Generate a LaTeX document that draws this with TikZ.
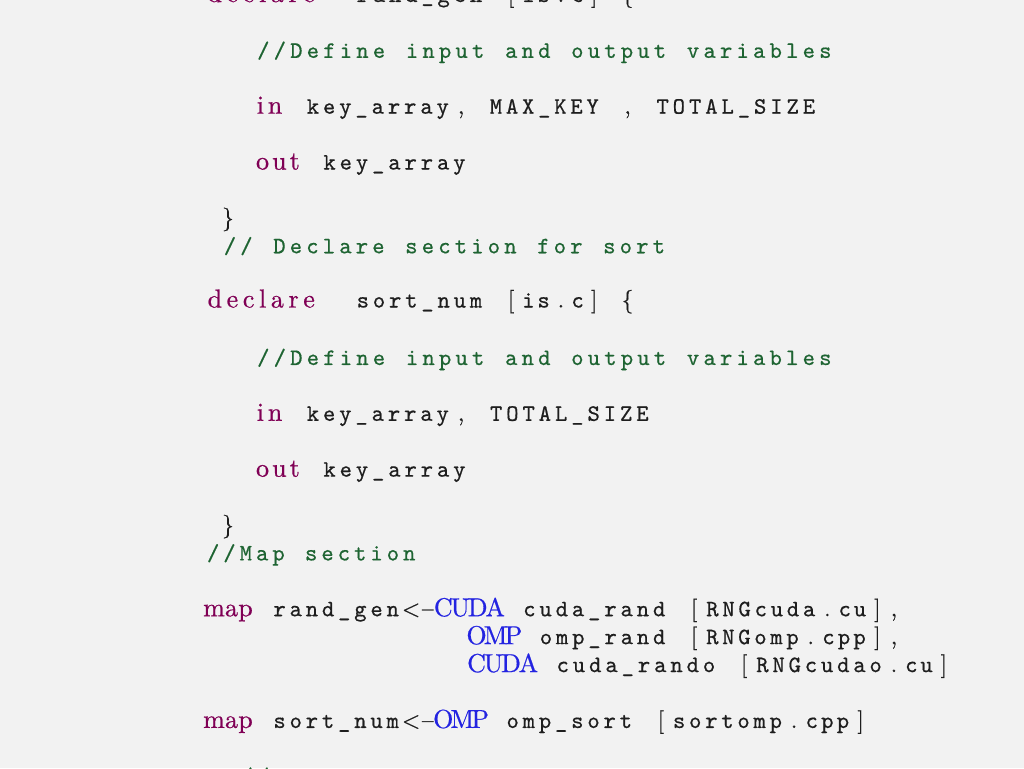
\documentclass[tikz,border=0pt]{standalone}
\usepackage{fontspec}
\setmainfont{lmroman10-regular.otf}[FakeBold=0.6]
\setmonofont{lmmono10-regular.otf}[FakeBold=0.6]
\usepackage{xcolor}
\definecolor{bgc}{RGB}{242,242,242}
\definecolor{kwc}{RGB}{128,0,85}
\definecolor{idc}{RGB}{30,30,30}
\definecolor{cmc}{RGB}{30,100,50}
\definecolor{tyc}{RGB}{35,35,225}
\newdimen\cellw \cellw=16.65pt
\newcount\tokn
\def\tokEnd{TOKEND}
\def\tokcount#1{\ifx#1\tokEnd\else\advance\tokn by 1\relax\expandafter\tokcount\fi}
\def\tokfill#1{\ifx#1\tokEnd\else{#1}\hss\expandafter\tokfill\fi}
\newcommand\Tk[1]{\tokn=0\relax\tokcount#1\tokEnd\hbox to \tokn\cellw{\hss\tokfill#1\tokEnd}}
\newcommand\Kw[1]{{\color{kwc}\rmfamily\fontsize{26}{28}\selectfont\Tk{#1}}}
\newcommand\Id[1]{{\color{idc}\ttfamily\Tk{#1}}}
\newcommand\Pu[1]{{\color{idc}\rmfamily\Tk{#1}}}
\newcommand\Cmt[1]{{\color{cmc}\ttfamily\Tk{#1}}}
\newcommand\Ty[1]{{\color{tyc}\rmfamily\fontsize{26}{28}\selectfont\Tk{#1}}}
\newcommand\Gap[1]{\kern#1\cellw}
\tikzset{code/.style={anchor=base west, inner sep=0pt, outer sep=0pt, font=\fontsize{23.5}{28}\selectfont}}
\begin{document}
\begin{tikzpicture}[x=1pt,y=-1pt]
\useasboundingbox (0,0) rectangle (1024,768);
\fill[bgc] (0,0) rectangle (1024,768);
\clip (0,0) rectangle (1024,768);
% column c left edge = 203 + 16.65 c ; baseline n = 2 + 27.92 n
\node[code] (l0) at (203,2) {\Kw{declare}\Gap2\Id{rand\_gen}\Gap1\Pu{[}\Id{is}\Pu{.}\Id{c}\Pu{]}\Gap1\Pu{\{}};
\node[code] (l2) at (252.95,57.84) {\Cmt{//Define~input~and~output~variables}};
\node[code] (l4) at (252.95,113.68) {\Kw{in}\Gap1\Id{key\_array}\Pu{,}\Gap1\Id{MAX\_KEY}\Gap1\Pu{,}\Gap1\Id{TOTAL\_SIZE}};
\node[code] (l6) at (252.95,169.52) {\Kw{out}\Gap1\Id{key\_array}};
\node[code] (l8) at (219.65,225.36) {\Pu{\}}};
\node[code] (l9) at (219.65,253.28) {\Cmt{//~Declare~section~for~sort}};
\node[code] (l11) at (203,307.5) {\Kw{declare}\Gap2\Id{sort\_num}\Gap1\Pu{[}\Id{is}\Pu{.}\Id{c}\Pu{]}\Gap1\Pu{\{}};
\node[code] (l13) at (252.95,364.96) {\Cmt{//Define~input~and~output~variables}};
\node[code] (l15) at (252.95,420.8) {\Kw{in}\Gap1\Id{key\_array}\Pu{,}\Gap1\Id{TOTAL\_SIZE}};
\node[code] (l17) at (252.95,476.64) {\Kw{out}\Gap1\Id{key\_array}};
\node[code] (l19) at (219.65,532.48) {\Pu{\}}};
\node[code] (l20) at (203,560.4) {\Cmt{//Map~section}};
\node[code] (l22) at (203,616.24) {\Kw{map}\Gap1\Id{rand\_gen}\Pu{<}\Pu{\textendash}\Ty{CUDA}\Gap1\Id{cuda\_rand}\Gap1\Pu{[}\Id{RNGcuda}\Pu{.}\Id{cu}\Pu{]}\Pu{,}};
\node[code] (l23) at (469.4,644.16) {\Ty{OMP}\Gap1\Id{omp\_rand}\Gap1\Pu{[}\Id{RNGomp}\Pu{.}\Id{cpp}\Pu{]}\Pu{,}};
\node[code] (l24) at (469.4,672.08) {\Ty{CUDA}\Gap1\Id{cuda\_rando}\Gap1\Pu{[}\Id{RNGcudao}\Pu{.}\Id{cu}\Pu{]}};
\node[code] (l26) at (203,727.92) {\Kw{map}\Gap1\Id{sort\_num}\Pu{<}\Pu{\textendash}\Ty{OMP}\Gap1\Id{omp\_sort}\Gap1\Pu{[}\Id{sortomp}\Pu{.}\Id{cpp}\Pu{]}};
\node[code] (l28) at (236.3,783.76) {\Cmt{//Execution~section}};
\end{tikzpicture}
\end{document}
